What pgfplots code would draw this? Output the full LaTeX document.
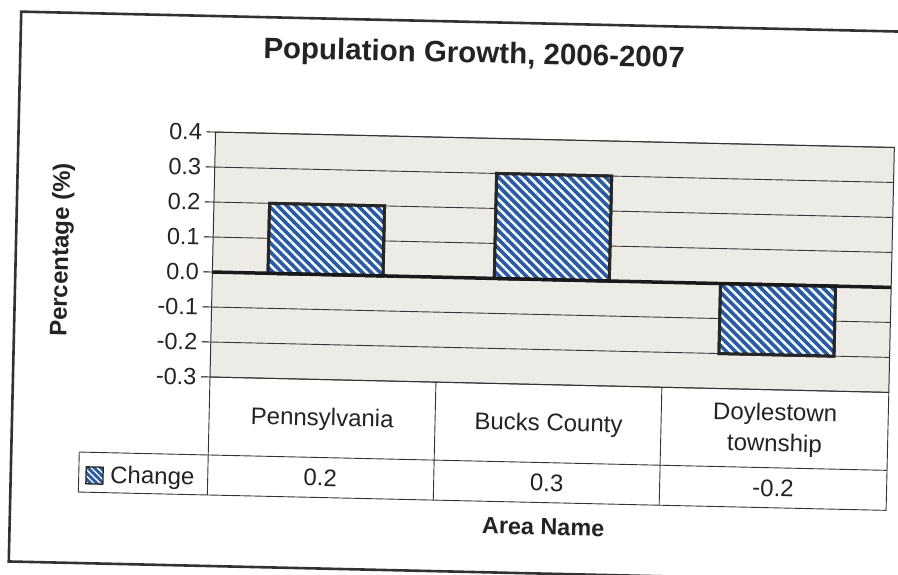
\documentclass[border=0pt]{standalone}
\usepackage{pgfplots}
\pgfplotsset{compat=1.18}
\usepackage{fontspec}
\setmainfont{Liberation Sans}
\usetikzlibrary{patterns.meta}
\definecolor{barblue}{RGB}{42,92,166}
\definecolor{plotbg}{RGB}{236,235,230}
\definecolor{gridc}{RGB}{55,55,55}
\definecolor{framec}{RGB}{50,50,50}
\definecolor{textc}{RGB}{35,35,35}
\begin{document}
\begin{tikzpicture}[x=1pt,y=1pt]
\useasboundingbox (-210,-197) rectangle (688,377);
\begin{scope}[rotate=-1.3, transform shape, every node/.append style={text=textc}]
\draw[line width=2.6pt, framec] (720,-189) -- (-197,-189) -- (-197,361) -- (720,361);
\begin{axis}[
  at={(0,0)}, anchor=south west,
  scale only axis, width=679pt, height=245pt,
  xmin=-0.5, xmax=2.5, ymin=-0.3, ymax=0.4,
  ytick={-0.3,-0.2,-0.1,0,0.1,0.2,0.3,0.4},
  /pgf/number format/fixed, /pgf/number format/fixed zerofill,
  /pgf/number format/precision=1, /pgf/number format/assume math mode=true,
  yticklabel style={font=\fontsize{23.5}{26}\selectfont, xshift=-1pt, text=textc},
  xtick={0,1,2},
  xticklabels={Pennsylvania, Bucks County, {Doylestown\\township}},
  xticklabel style={font=\fontsize{24}{31}\selectfont, align=center, anchor=center, yshift=-31pt, text=textc},
  x tick style={draw=none},
  y tick style={black, line width=0.9pt},
  major tick length=9pt,
  tick pos=left, tick align=outside,
  axis background/.style={fill=plotbg},
  ymajorgrids, grid style={gridc, line width=0.9pt},
  axis line style={black!80, line width=1pt},
  ylabel={\bfseries Percentage (\%)},
  ylabel style={font=\fontsize{24}{28}\selectfont, at={(axis description cs:-0.222,0.504)}, anchor=center, text=textc},
  title={\bfseries Population Growth, 2006-2007},
  title style={font=\fontsize{29.5}{32}\selectfont, at={(axis description cs:0.378,1.282)}, anchor=base, text=textc},
  clip=false,
]
\addplot[ybar, bar width=0.508, preaction={fill=barblue},
  pattern={Lines[angle=-45,distance=6.3pt,line width=2.4pt]}, pattern color=white,
  draw=black!85, line width=3pt]
  coordinates {(0,0.2) (1,0.3) (2,-0.2)};
\draw[black!90, line width=3.5pt] (axis cs:-0.5,0) -- (axis cs:2.5,0);
\end{axis}
% data table
\draw[black!80, line width=0.9pt] (0,0) -- (0,-118);
\draw[black!80, line width=0.9pt] (226,0) -- (226,-118);
\draw[black!80, line width=0.9pt] (452,0) -- (452,-118);
\draw[black!80, line width=0.9pt] (679,0) -- (679,-118);
\draw[black!80, line width=0.9pt] (-129,-78) -- (679,-78);
\draw[black!80, line width=0.9pt] (-129,-118) -- (679,-118);
\draw[black!80, line width=0.9pt] (-129,-78) -- (-129,-118);
\fill[barblue] (-121.7,-109.6) rectangle (-104.7,-92.6);
\fill[pattern={Lines[angle=-45,distance=4.5pt,line width=1.3pt]}, pattern color=white] (-121.7,-109.6) rectangle (-104.7,-92.6);
\draw[black!85, line width=1.3pt] (-121.7,-109.6) rectangle (-104.7,-92.6);
\node[anchor=base west, inner sep=0pt, font=\fontsize{24}{28}\selectfont] at (-97.6,-108.3) {Change};
\node[anchor=base, inner sep=0pt, font=\fontsize{24}{28}\selectfont] at (112.5,-106.5) {0.2};
\node[anchor=base, inner sep=0pt, font=\fontsize{24}{28}\selectfont] at (339,-106.5) {0.3};
\node[anchor=base, inner sep=0pt, font=\fontsize{24}{28}\selectfont] at (565.5,-106.5) {-0.2};
\node[anchor=base, inner sep=0pt, font=\bfseries\fontsize{23.4}{28}\selectfont] at (336.5,-150.4) {Area Name};
\end{scope}
\end{tikzpicture}
\end{document}
